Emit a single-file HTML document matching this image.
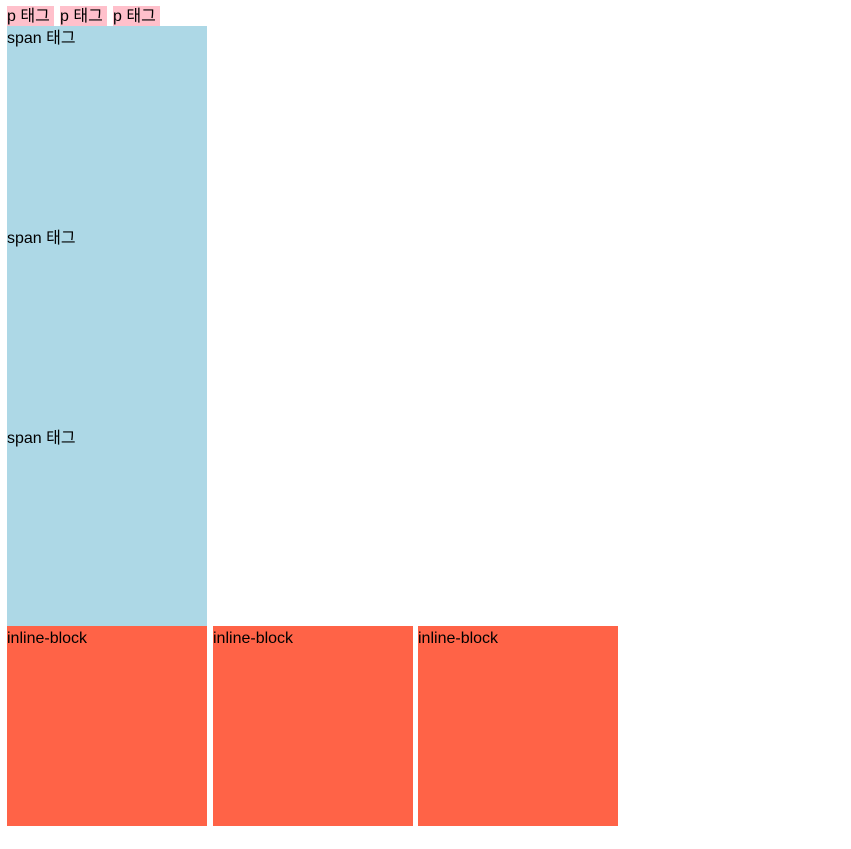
<!DOCTYPE html>
<html><head><meta charset="utf-8"><style>
html,body{margin:0;padding:0;background:#fff;width:851px;height:849px;overflow:hidden}
body{position:relative;font-family:"Liberation Sans","Noto Sans CJK KR",sans-serif;font-size:16px;color:#000}
.p{position:absolute;top:6px;height:20px;line-height:22px;background:pink;white-space:nowrap;overflow:hidden}
.s{position:absolute;left:7px;width:200px;height:200px;background:lightblue;line-height:22px;padding-top:2px;box-sizing:border-box}
.ib{position:absolute;top:626px;width:200px;height:200px;background:tomato;line-height:22px;padding-top:2px;box-sizing:border-box}
</style></head><body>
<div class="p" style="left:7px;width:47px">p 태그</div>
<div class="p" style="left:60px;width:47px">p 태그</div>
<div class="p" style="left:113px;width:47px">p 태그</div>
<div class="s" style="top:26px">span 태그</div>
<div class="s" style="top:226px">span 태그</div>
<div class="s" style="top:426px">span 태그</div>
<div class="ib" style="left:7px">inline-block</div>
<div class="ib" style="left:213px">inline-block</div>
<div class="ib" style="left:418px">inline-block</div>
</body></html>
